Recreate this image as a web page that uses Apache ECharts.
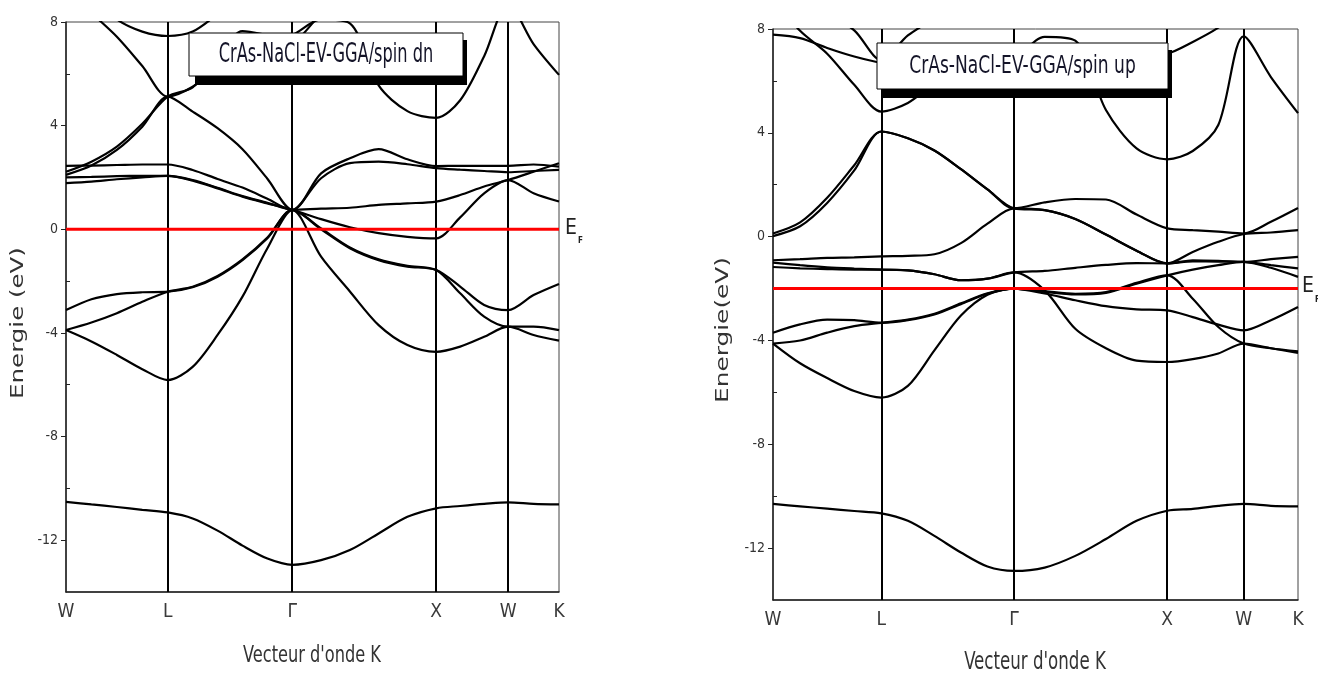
<!DOCTYPE html>
<html><head><meta charset="utf-8">
<script src="https://cdn.jsdelivr.net/npm/echarts@6/dist/echarts.min.js"></script>
<style>html,body{margin:0;padding:0;background:#fff}#c{width:1318px;height:675px}</style>
</head><body><div id="c"></div>
<script>
// k-path sample positions (W-L-Γ-X-W-K, units of 2π/a)
const kGrid = [0, 0.1768, 0.3536, 0.5303, 0.7071, 0.8803, 1.0535, 1.2267, 1.3999, 1.5731,
  1.7731, 1.9731, 2.1731, 2.3731, 2.5731, 2.7398, 2.9064, 3.0731, 3.2499, 3.4267];
const kTicks = [0, 0.7071, 1.5731, 2.5731, 3.0731, 3.4267];
const kTickNames = ['W', 'L', 'Γ', 'X', 'W', 'K'];
const yMajorTicks = [-12, -8, -4, 0, 4, 8];
const yMinorTicks = [-10, -6, -2, 2, 6];
const efDn = 0;
const efUp = -2.0;
const titleDn = 'CrAs-NaCl-EV-GGA/spin dn';
const titleUp = 'CrAs-NaCl-EV-GGA/spin up';
const yTitleDn = 'Energie (eV)';
const yTitleUp = 'Energie(eV)';
const xTitle = "Vecteur d'onde K";

// spin dn bands (eV)
const dn1 = [-10.52, -10.62, -10.72, -10.83, -10.93, -11.16, -11.63, -12.21, -12.71, -12.95, -12.77, -12.38, -11.74, -11.1, -10.77, -10.68, -10.6, -10.54, -10.6, -10.62];
const dn2 = [-3.89, -4.33, -4.85, -5.4, -5.82, -5.31, -4.08, -2.6, -0.73, 0.75, -1.06, -2.4, -3.7, -4.47, -4.73, -4.53, -4.15, -3.76, -4.08, -4.3];
const dn3 = [-3.12, -2.7, -2.5, -2.43, -2.41, -2.24, -1.83, -1.19, -0.35, 0.75, 0.0, -0.73, -1.19, -1.44, -1.57, -2.21, -2.92, -3.12, -2.54, -2.11];
const dn4 = [-3.89, -3.6, -3.24, -2.8, -2.41, -2.22, -1.8, -1.16, -0.32, 0.75, 0.03, -0.7, -1.16, -1.41, -1.57, -2.47, -3.37, -3.76, -3.76, -3.89];
const dn5 = [1.78, 1.84, 1.93, 2.0, 2.06, 1.88, 1.58, 1.26, 1.0, 0.75, 0.39, 0.08, -0.15, -0.29, -0.35, 0.46, 1.39, 1.9, 1.39, 1.07];
const dn6 = [2.0, 2.02, 2.05, 2.06, 2.06, 1.9, 1.6, 1.28, 1.02, 0.75, 2.16, 2.74, 3.09, 2.7, 2.44, 2.45, 2.45, 2.45, 2.5, 2.42];
const dn7 = [2.45, 2.46, 2.48, 2.5, 2.5, 2.29, 1.94, 1.61, 1.18, 0.75, 0.8, 0.83, 0.94, 1.0, 1.07, 1.32, 1.65, 1.9, 2.22, 2.55];
const dn8 = [2.1, 2.46, 3.06, 3.96, 5.12, 4.54, 3.9, 3.09, 1.95, 0.75, 1.97, 2.55, 2.61, 2.51, 2.36, 2.3, 2.25, 2.2, 2.25, 2.29];
const dn9 = [2.22, 2.61, 3.19, 4.07, 5.12, 5.48, 6.6, 7.65, 7.5, 7.3, 8.3, 9, 9.3, 9.5, 9.5, 9.5, 9.5, 9.5, 9.5, 9.5];
const dn10 = [9.3, 8.35, 7.43, 6.3, 5.12, 5.5, 6.25, 6.85, 7.3, 7.5, 8.1, 7.95, 5.55, 4.56, 4.3, 4.98, 6.68, 8.7, 7.15, 5.96];
const dn11 = [10, 9.0, 8.1, 7.63, 7.46, 7.63, 8.3, 9, 9.2, 9.3, 9.3, 9.3, 9.3, 9.3, 9.3, 9.3, 9.3, 9.3, 9.3, 9.3];

// spin up bands (eV)
const up1 = [-10.3, -10.39, -10.48, -10.57, -10.66, -10.95, -11.53, -12.17, -12.71, -12.88, -12.75, -12.3, -11.65, -10.95, -10.56, -10.49, -10.37, -10.3, -10.37, -10.39];
const up2 = [-4.12, -4.88, -5.45, -5.95, -6.2, -5.75, -4.38, -3.04, -2.24, -2.0, -2.19, -2.45, -2.68, -2.8, -2.84, -3.1, -3.39, -3.61, -3.22, -2.71];
const up3 = [-3.7, -3.38, -3.2, -3.22, -3.32, -3.22, -3.0, -2.6, -2.2, -2.0, -2.13, -2.23, -2.17, -1.81, -1.49, -1.27, -1.1, -0.97, -1.1, -1.22];
const up4 = [-4.12, -4.0, -3.7, -3.45, -3.32, -3.2, -2.97, -2.57, -2.18, -2.0, -2.1, -2.2, -2.14, -1.78, -1.49, -2.39, -3.48, -4.12, -4.3, -4.42];
const up5 = [-1.0, -1.1, -1.18, -1.23, -1.27, -1.3, -1.45, -1.68, -1.62, -1.38, -2.07, -3.55, -4.3, -4.78, -4.83, -4.72, -4.5, -4.12, -4.3, -4.48];
const up6 = [-1.17, -1.22, -1.25, -1.27, -1.27, -1.3, -1.45, -1.68, -1.62, -1.38, -1.32, -1.2, -1.09, -1.02, -1.03, -0.91, -0.93, -0.97, -0.87, -0.78];
const up7 = [-0.91, -0.87, -0.82, -0.8, -0.76, -0.74, -0.68, -0.25, 0.5, 1.09, 1.02, 0.68, 0.08, -0.54, -1.03, -0.59, -0.2, 0.1, 0.16, 0.25];
const up8 = [0.12, 0.55, 1.5, 2.75, 4.05, 3.79, 3.32, 2.6, 1.82, 1.09, 1.32, 1.45, 1.43, 0.85, 0.32, 0.25, 0.19, 0.12, 0.57, 1.1];
const up9 = [0.02, 0.4, 1.3, 2.55, 4.05, 3.79, 3.32, 2.6, 1.82, 1.09, 1.02, 0.68, 0.08, -0.54, -1.03, -0.95, -0.96, -0.97, -1.2, -1.55];
const up10 = [7.78, 7.65, 7.27, 6.94, 6.7, 6.6, 6.5, 6.5, 6.5, 6.5, 6.6, 6.7, 6.8, 6.95, 7.05, 7.5, 8.05, 8.8, 9.2, 9.4];
const up11 = [9.2, 7.93, 7.05, 5.85, 4.82, 5.15, 5.9, 6.4, 6.6, 6.8, 7.7, 7.55, 4.88, 3.4, 2.98, 3.3, 4.3, 7.72, 6.15, 4.76];
const up12 = [10, 9.3, 8.6, 7.95, 6.8, 7.75, 8.4, 9, 9.2, 9.3, 9.3, 9.3, 9.3, 9.3, 9.3, 9.3, 9.3, 9.3, 9.3, 9.3];

const dnBands = [dn1, dn2, dn3, dn4, dn5, dn6, dn7, dn8, dn9, dn10, dn11];
const upBands = [up1, up2, up3, up4, up5, up6, up7, up8, up9, up10, up11, up12];

const NARROW = '"Liberation Sans Narrow", "Arial Narrow", "DejaVu Sans Condensed", sans-serif';
const kMax = kTicks[kTicks.length - 1];

function xAxisCfg(gi) {
  return {
    gridIndex: gi, type: 'value', min: 0, max: kMax, position: 'bottom',
    axisLine: { show: true, onZero: false, lineStyle: { color: '#222', width: 1.5 } },
    axisTick: { show: false },
    splitLine: { show: false },
    axisLabel: {
      customValues: kTicks, color: '#3a3a3a', fontSize: 19, fontFamily: NARROW, margin: 11,
      formatter: function (v) {
        const i = kTicks.findIndex(t => Math.abs(t - v) < 1e-6);
        return i >= 0 ? kTickNames[i] : '';
      }
    }
  };
}
function yAxisMain(gi) {
  return {
    gridIndex: gi, type: 'value', min: -14, max: 8, interval: 2,
    axisLine: { show: true, onZero: false, lineStyle: { color: '#222', width: 1.5 } },
    axisTick: { show: true, customValues: yMajorTicks, length: 5, lineStyle: { color: '#222', width: 1 } },
    axisLabel: { customValues: yMajorTicks, color: '#333', fontSize: 14, fontFamily: NARROW, margin: 8 },
    splitLine: { show: false }
  };
}
function yAxisMinor(gi) {
  return {
    gridIndex: gi, type: 'value', min: -14, max: 8, interval: 2, position: 'left',
    axisLine: { show: false, onZero: false },
    axisTick: { show: true, inside: true, customValues: yMinorTicks, length: 4, lineStyle: { color: '#222', width: 1 } },
    axisLabel: { show: false },
    splitLine: { show: false }
  };
}

const series = [];
function addBands(bands, xi, yi, ef) {
  bands.forEach((b, idx) => {
    const s = {
      type: 'line', xAxisIndex: xi, yAxisIndex: yi, smooth: 0.3, symbol: 'none',
      lineStyle: { color: '#000', width: 2.2 }, z: 3, silent: true,
      data: kGrid.map((k, j) => [k, b[j]])
    };
    if (idx === 0) {
      s.markLine = {
        silent: true, symbol: 'none', animation: false, label: { show: false },
        lineStyle: { color: '#000', width: 2, type: 'solid' },
        data: kTicks.slice(1, kTicks.length - 1).map(k => ({ xAxis: k }))
      };
    }
    series.push(s);
  });
  series.push({
    type: 'line', xAxisIndex: xi, yAxisIndex: yi, symbol: 'none', z: 6, silent: true,
    lineStyle: { color: '#ff0000', width: 3 },
    data: [[0, ef], [kMax, ef]]
  });
}
addBands(dnBands, 0, 0, efDn);
addBands(upBands, 1, 2, efUp);

function titleBox(x, y, w, h, text, size, scaleY) {
  return [
    { type: 'rect', z: 100, shape: { x: x + 6, y: y + 7, width: w - 2, height: h + 2 }, style: { fill: '#000' } },
    { type: 'rect', z: 101, shape: { x: x, y: y, width: w, height: h }, style: { fill: '#fff', stroke: '#000', lineWidth: 1 } },
    { type: 'text', z: 102, x: x + w / 2, y: y + h / 2 + 1, scaleY: scaleY,
      style: { text: text, fill: '#141428', font: size + 'px ' + NARROW, align: 'center', verticalAlign: 'middle' } }
  ];
}

const graphic = [].concat(
  titleBox(189, 33, 274, 43, titleDn, 18, 1.45),
  titleBox(877, 43, 291, 46, titleUp, 19, 1.3),
  [
    { type: 'text', z: 50, x: 565, y: 218, style: { text: 'E', fill: '#222', font: '21px ' + NARROW } },
    { type: 'text', z: 50, x: 578, y: 237, style: { text: 'F', fill: '#222', font: 'bold 8px ' + NARROW } },
    { type: 'text', z: 50, x: 1302, y: 276, style: { text: 'E', fill: '#222', font: '21px ' + NARROW } },
    { type: 'text', z: 50, x: 1315, y: 296, style: { text: 'F', fill: '#222', font: 'bold 8px ' + NARROW } },
    { type: 'text', z: 50, x: 19, y: 323, rotation: Math.PI / 2, scaleX: 1.44,
      style: { text: yTitleDn, fill: '#333', font: '17px "DejaVu Sans", sans-serif', align: 'center', verticalAlign: 'middle' } },
    { type: 'text', z: 50, x: 724, y: 330, rotation: Math.PI / 2, scaleX: 1.46,
      style: { text: yTitleUp, fill: '#333', font: '17px "DejaVu Sans", sans-serif', align: 'center', verticalAlign: 'middle' } },
    { type: 'text', z: 50, x: 312, y: 656, scaleY: 1.3,
      style: { text: xTitle, fill: '#333', font: '18px ' + NARROW, align: 'center', verticalAlign: 'middle' } },
    { type: 'text', z: 50, x: 1035, y: 663, scaleY: 1.3,
      style: { text: xTitle, fill: '#333', font: '18.5px ' + NARROW, align: 'center', verticalAlign: 'middle' } }
  ]
);

const chart = echarts.init(document.getElementById('c'), null, { renderer: 'canvas' });
chart.setOption({
  animation: false,
  backgroundColor: '#fff',
  textStyle: { fontFamily: NARROW },
  grid: [
    { left: 66, top: 22, width: 493, height: 570, show: true, borderColor: '#444', borderWidth: 1 },
    { left: 773, top: 29, width: 525, height: 571, show: true, borderColor: '#444', borderWidth: 1 }
  ],
  xAxis: [xAxisCfg(0), xAxisCfg(1)],
  yAxis: [yAxisMain(0), yAxisMinor(0), yAxisMain(1), yAxisMinor(1)],
  series: series,
  graphic: graphic
});
</script>
</body></html>
